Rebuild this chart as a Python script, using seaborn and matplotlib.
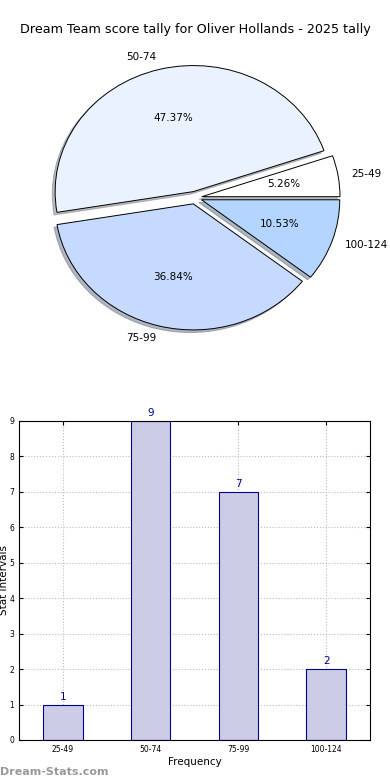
import matplotlib
matplotlib.use('Agg')
import matplotlib.pyplot as plt
import seaborn as sns
import pandas as pd

TITLE = 'Dream Team score tally for Oliver Hollands - 2025 tally'

intervals = ['25-49', '50-74', '75-99', '100-124']
counts = [1, 9, 7, 2]
pie_colors = ['#ffffff', '#eaf1ff', '#c6d9ff', '#b4d5ff']


def main():
    sns.set_style('white')
    plt.rcParams['font.family'] = ['DejaVu Sans']
    plt.rcParams['text.color'] = 'black'
    plt.rcParams['axes.labelcolor'] = 'black'
    plt.rcParams['xtick.color'] = 'black'
    plt.rcParams['ytick.color'] = 'black'

    fig = plt.figure(figsize=(3.9, 7.8), dpi=100)
    fig.text(0.5, 0.962, TITLE, ha='center', va='center', fontsize=9.2)

    # pie
    ax1 = fig.add_axes([0.05, 0.538, 0.9, 0.417])
    ax1.pie(counts, labels=intervals, colors=pie_colors, autopct='%.2f%%',
            startangle=0, explode=[0.05] * len(counts),
            shadow={'ox': -0.015, 'oy': -0.015, 'shade': 0.5},
            wedgeprops={'edgecolor': 'black', 'linewidth': 0.7},
            textprops={'fontsize': 7.5})
    ax1.set_aspect('auto')
    ax1.set_xlim(-1.27, 1.27)
    ax1.set_ylim(-1.29, 1.29)
    ax1.axis('off')

    # bars
    ax2 = fig.add_axes([0.049, 0.0513, 0.9, 0.409])
    df = pd.DataFrame({'interval': intervals, 'count': counts})
    sns.barplot(data=df, x='interval', y='count', ax=ax2, width=0.45,
                color='#ccccE6', edgecolor='#00008b', linewidth=0.8,
                saturation=1)
    for i, c in enumerate(counts):
        ax2.text(i, c + 0.08, str(c), ha='center', va='bottom',
                 fontsize=7.5, color='#00008b')
    ax2.set_ylim(0, 9)
    ax2.set_xlim(-0.5, len(intervals) - 0.5)
    ax2.set_yticks(range(0, 10))
    ax2.grid(True, linestyle=':', color='#bbbbbb', linewidth=0.8)
    ax2.set_axisbelow(True)
    ax2.tick_params(axis='both', labelsize=5.5, direction='in', length=3,
                    right=True, top=True, bottom=True, left=True)
    for s in ax2.spines.values():
        s.set_color('black')
        s.set_linewidth(0.8)
    ax2.set_xlabel('Frequency', fontsize=7.5, labelpad=2)
    ax2.set_ylabel('Stat Intervals', fontsize=7.5)
    ax2.yaxis.set_label_coords(-0.028, 0.5)

    fig.text(0.0, 0.004, 'Dream-Stats.com', fontsize=8, color='#999999',
             fontweight='bold', ha='left', va='bottom')

    fig.savefig('out.png', dpi=100)
    plt.close(fig)


if __name__ == '__main__':
    main()
